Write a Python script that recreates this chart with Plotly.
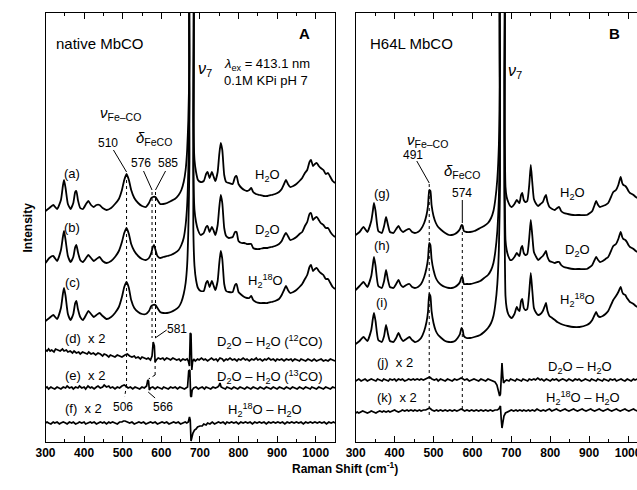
import plotly.graph_objects as go

# ---------------- data: (Raman shift / cm-1, relative intensity) ----------------
# Panel A : native MbCO
spec_a = [(300,0),(310,3),(320,6),(330,2),(340,11),(345,25),(348,31),(352,23),(358,7),(365,2),(372,8),(377,19),(380,20),(384,11),(390,3),(397,2),(405,7),(411,10),(418,6),(425,4),(432,6),(440,6),(448,3),(458,1),(470,3),(480,7),(490,12),(498,21),(504,31),(510,37),(516,31),(522,21),(530,13),(540,8),(550,5),(560,4),(568,8),(574,13),(578,14),(585,14),(590,11),(597,7),(605,7),(615,8),(625,10),(635,12),(645,16),(652,21),(658,29),(663,41),(667,61),(670,91),(673,151),(676,400),(680,400),(683,91),(686,51),(690,39),(695,31),(702,29),(710,30),(716,37),(720,39),(725,33),(731,39),(735,35),(740,30),(746,39),(750,56),(754,68),(758,61),(763,36),(768,29),(775,28),(785,27),(791,34),(795,35),(800,27),(808,23),(815,21),(822,20),(828,21),(833,23),(838,19),(845,17),(855,16),(865,15),(875,15),(885,16),(895,17),(905,19),(912,22),(918,27),(923,31),(928,27),(934,24),(942,25),(950,27),(958,30),(965,33),(972,38),(978,41),(984,49),(988,51),(993,45),(998,47),(1003,48),(1008,45),(1013,43),(1020,41),(1026,37),(1032,38),(1038,34),(1044,30),(1050,28)]
spec_b = [(300,0),(310,5),(320,7),(330,2),(340,13),(345,26),(348,32),(352,23),(358,7),(365,1),(372,6),(377,16),(380,18),(384,11),(390,3),(397,1),(405,5),(411,8),(418,5),(425,2),(432,4),(440,6),(448,2),(458,0),(470,2),(480,6),(490,12),(498,21),(504,30),(510,35),(516,29),(522,19),(530,12),(540,7),(550,4),(560,3),(568,5),(574,10),(578,16),(581,18),(585,13),(590,7),(597,5),(605,6),(615,7),(625,8),(635,10),(645,13),(652,18),(658,25),(663,38),(667,58),(670,93),(673,163),(676,400),(680,400),(683,93),(686,53),(690,41),(695,33),(702,28),(710,30),(716,36),(720,37),(725,31),(731,36),(735,33),(740,28),(746,38),(750,55),(754,68),(758,60),(763,35),(768,27),(775,25),(785,26),(791,31),(795,31),(800,22),(808,20),(815,20),(822,19),(828,19),(833,19),(838,15),(845,14),(855,14),(865,15),(875,15),(885,16),(895,17),(905,19),(912,22),(918,27),(923,30),(928,27),(934,23),(942,24),(950,26),(958,29),(965,31),(972,37),(978,41),(984,49),(988,50),(993,43),(998,45),(1003,46),(1008,43),(1013,40),(1020,38),(1026,35),(1032,35),(1038,31),(1044,28),(1050,26)]
spec_c = [(300,0),(310,3),(320,6),(330,2),(340,13),(345,27),(348,33),(352,25),(358,7),(365,1),(372,7),(377,18),(380,20),(384,12),(390,4),(397,1),(405,6),(411,10),(418,7),(425,4),(432,6),(440,8),(448,5),(458,2),(470,4),(480,8),(490,14),(498,24),(504,34),(510,39),(516,33),(522,21),(530,13),(540,9),(550,7),(560,7),(568,10),(574,15),(578,16),(585,16),(590,13),(597,9),(605,8),(615,8),(625,9),(635,11),(645,14),(652,19),(658,27),(663,38),(667,56),(670,91),(673,160),(676,400),(680,400),(683,91),(686,55),(690,41),(695,33),(702,30),(710,30),(716,38),(720,40),(725,34),(731,40),(735,36),(740,31),(746,40),(750,57),(754,70),(758,62),(763,37),(768,30),(775,29),(785,29),(791,36),(795,37),(800,29),(808,26),(815,24),(822,23),(828,23),(833,25),(838,21),(845,19),(855,18),(865,18),(875,18),(885,19),(895,20),(905,22),(912,26),(918,31),(923,35),(928,31),(934,28),(942,29),(950,31),(958,34),(965,37),(972,42),(978,46),(984,54),(988,56),(993,50),(998,52),(1003,53),(1008,50),(1013,48),(1020,46),(1026,42),(1032,42),(1038,38),(1044,34),(1050,32)]
diff_d = [(300,8),(304,7),(308,9),(312,7),(316,8),(322,6),(326,9),(332,8),(338,7),(344,9),(348,7),(354,8),(358,6),(364,7),(370,5),(374,7),(380,5),(386,6),(390,4),(396,6),(402,5),(408,4),(412,6),(418,4),(424,5),(430,3),(436,5),(442,4),(448,2),(452,4),(458,3),(464,1),(468,3),(474,2),(480,1),(486,3),(492,2),(498,1),(506,3),(512,4),(518,2),(524,1),(530,2),(534,0),(540,1),(546,-1),(550,1),(556,0),(562,-1),(566,0),(572,-2),(576,2),(579,16),(582,12),(584,-4),(587,-2),(592,0),(598,-1),(604,0),(608,-2),(614,0),(620,-1),(624,-2),(630,0),(636,-1),(640,-2),(646,-1),(650,-3),(656,-1),(662,-2),(667,-1),(670,-3),(673,-8),(675,25),(677,24),(679,-12),(681,-4),(684,-1),(688,-3),(694,-1),(698,-2),(704,0),(710,-2),(714,-1),(720,-3),(726,-1),(730,0),(736,-2),(742,-1),(746,-3),(752,0),(758,-1),(762,-3),(768,-1),(772,-2),(778,0),(784,-2),(790,-1),(796,-3),(800,-1),(806,-2),(812,0),(818,-2),(822,-1),(828,-3),(834,-1),(840,-2),(846,0),(850,-2),(856,-1),(862,-3),(868,-1),(872,-2),(878,0),(884,-2),(890,-1),(896,-3),(900,-1),(906,-2),(912,-1),(918,-3),(924,-1),(930,-2),(936,-1),(940,-3),(946,-1),(952,-2),(958,-3),(962,-1),(968,-2),(974,-3),(980,-1),(986,-2),(990,-3),(996,-1),(1002,-3),(1008,-2),(1014,-1),(1020,-3),(1026,-2),(1032,-3),(1038,-1),(1044,-2),(1050,-3)]
diff_e = [(300,0),(304,1),(308,-1),(314,1),(318,0),(324,-1),(330,1),(336,0),(340,-1),(346,1),(352,0),(356,2),(362,0),(368,1),(372,-1),(378,1),(384,0),(388,2),(394,0),(400,1),(404,-1),(410,2),(416,0),(420,1),(426,-1),(432,1),(436,2),(442,0),(448,1),(452,3),(458,1),(464,2),(468,0),(474,1),(480,-1),(486,1),(492,0),(498,2),(504,3),(508,2),(514,0),(520,1),(526,-1),(532,1),(538,0),(544,-1),(550,1),(556,0),(562,2),(565,8),(567,7),(569,-2),(572,0),(578,1),(584,-1),(590,1),(596,0),(602,-1),(606,1),(612,0),(618,-1),(624,1),(630,0),(636,1),(642,-1),(648,1),(654,0),(660,-1),(664,0),(668,1),(671,17),(674,18),(676,-8),(678,-9),(680,-2),(684,0),(690,1),(696,-1),(700,0),(706,1),(712,-1),(716,1),(722,0),(728,-1),(734,1),(740,0),(746,1),(749,2),(752,5),(755,1),(760,0),(766,-1),(770,1),(776,0),(782,-1),(788,1),(794,0),(798,-1),(804,1),(810,0),(816,-1),(822,1),(828,0),(832,-1),(838,1),(844,0),(850,-1),(856,1),(860,0),(866,-1),(872,1),(878,0),(884,-1),(890,1),(894,0),(900,-1),(906,1),(912,0),(918,-1),(924,1),(928,0),(934,-1),(940,1),(946,0),(952,-1),(958,1),(962,0),(968,-1),(974,1),(980,0),(986,-1),(990,1),(996,0),(1002,-1),(1008,1),(1014,0),(1020,-1),(1026,1),(1032,0),(1038,-1),(1044,1),(1050,0)]
diff_f = [(300,0),(304,1),(308,0),(314,-1),(320,1),(324,0),(330,1),(336,-1),(340,0),(346,1),(352,0),(356,-1),(362,1),(368,0),(372,1),(378,-1),(384,0),(388,1),(394,0),(400,1),(404,-1),(410,0),(416,1),(420,0),(426,1),(432,-1),(436,0),(442,1),(448,0),(452,1),(458,-1),(464,1),(468,0),(474,1),(480,0),(486,-1),(492,1),(498,1),(502,2),(506,2),(512,1),(518,0),(524,1),(530,-1),(536,0),(542,1),(548,0),(554,1),(560,-1),(566,0),(572,1),(578,0),(584,1),(590,-1),(596,0),(602,1),(608,0),(614,1),(620,-1),(626,0),(632,1),(638,0),(644,1),(650,-1),(656,0),(662,1),(666,0),(670,1),(673,6),(675,3),(677,-18),(679,-14),(682,-10),(686,-7),(690,-6),(694,-4),(700,-3),(706,-3),(710,-1),(716,-2),(720,0),(726,-1),(732,1),(738,-1),(742,0),(748,1),(754,0),(760,1),(766,-1),(770,1),(776,0),(782,1),(788,0),(794,1),(800,-1),(806,1),(812,0),(818,1),(824,0),(830,1),(836,-1),(842,1),(848,0),(854,1),(860,0),(866,1),(872,-1),(878,1),(884,0),(890,1),(896,0),(902,1),(908,0),(914,1),(920,-1),(926,1),(932,0),(938,1),(944,0),(950,1),(956,0),(962,1),(968,-1),(974,1),(980,0),(986,1),(992,0),(998,1),(1004,0),(1010,1),(1016,0),(1022,1),(1028,-1),(1034,1),(1040,0),(1046,1),(1050,0)]

# Panel B : H64L MbCO
spec_g = [(300,0),(310,3),(320,8),(330,3),(340,14),(344,24),(347,32),(351,24),(358,4),(367,2),(373,9),(378,18),(383,10),(388,3),(397,2),(404,6),(410,9),(416,5),(422,3),(430,5),(438,6),(445,3),(452,2),(460,3),(468,6),(476,12),(482,20),(486,30),(489,45),(492,44),(495,30),(500,19),(506,12),(512,8),(520,5),(530,2),(540,0),(547,0),(555,1),(562,3),(568,6),(572,10),(575,9),(578,4),(585,3),(594,3),(605,4),(620,7),(630,9),(640,12),(648,17),(654,24),(659,36),(664,56),(668,90),(671,160),(674,400),(679,400),(682,150),(685,48),(688,38),(692,33),(697,29),(701,28),(708,31),(714,35),(718,33),(721,32),(725,40),(728,42),(732,35),(736,33),(741,34),(746,50),(750,70),(754,52),(758,36),(764,31),(769,29),(775,31),(781,33),(786,38),(789,40),(793,33),(798,28),(805,26),(812,25),(818,27),(823,28),(828,24),(835,22),(845,21),(859,20),(875,20),(894,20),(902,22),(908,24),(914,30),(918,34),(923,30),(928,28),(935,29),(942,30),(949,32),(955,37),(962,43),(969,45),(975,50),(981,58),(985,52),(988,50),(993,49),(997,47),(1001,44),(1005,42),(1010,41),(1014,40),(1020,38),(1024,37),(1030,35)]
spec_h = [(300,0),(310,4),(320,8),(330,3),(340,14),(344,25),(347,33),(351,24),(358,4),(367,2),(373,9),(378,20),(383,10),(388,3),(397,2),(404,6),(410,10),(416,5),(422,3),(430,5),(438,6),(445,3),(452,2),(460,3),(468,6),(476,13),(482,22),(486,32),(489,47),(492,45),(495,31),(500,20),(506,12),(512,8),(520,5),(530,3),(540,2),(547,2),(555,3),(562,5),(568,8),(572,13),(575,12),(578,6),(585,6),(594,6),(605,7),(620,9),(630,12),(640,15),(648,20),(654,27),(659,39),(664,59),(668,93),(671,160),(674,400),(679,400),(682,150),(685,50),(688,40),(692,34),(697,30),(701,30),(708,33),(714,37),(718,35),(721,34),(725,42),(728,44),(732,37),(736,35),(741,36),(746,52),(750,70),(754,54),(758,38),(764,33),(769,30),(775,32),(781,34),(786,37),(789,39),(793,33),(798,29),(805,28),(812,27),(818,28),(823,28),(828,25),(835,23),(845,22),(859,21),(875,21),(894,21),(902,23),(908,25),(914,30),(918,33),(923,30),(928,28),(935,29),(942,31),(949,33),(955,38),(962,44),(969,46),(975,51),(981,58),(985,53),(988,51),(993,50),(997,48),(1001,45),(1005,43),(1010,42),(1014,41),(1020,39),(1024,38),(1030,36)]
spec_i = [(300,0),(310,3),(320,7),(330,3),(340,14),(344,25),(347,31),(351,23),(358,4),(367,2),(373,8),(378,19),(383,10),(388,3),(397,2),(404,6),(410,11),(416,6),(422,3),(430,5),(438,7),(445,4),(452,2),(460,3),(468,6),(476,13),(482,22),(486,33),(489,50),(492,48),(495,33),(500,21),(506,13),(512,9),(520,6),(530,3),(540,2),(547,2),(555,3),(562,6),(568,10),(572,16),(575,14),(578,8),(585,6),(594,6),(605,7),(620,9),(630,12),(640,16),(648,21),(654,28),(659,40),(664,60),(668,95),(671,160),(674,400),(679,400),(682,150),(685,48),(688,36),(692,30),(697,27),(701,26),(708,30),(714,37),(718,34),(721,33),(725,43),(728,45),(732,36),(736,34),(741,35),(746,52),(750,71),(754,53),(758,36),(764,31),(769,29),(775,30),(781,33),(786,38),(789,41),(793,33),(798,28),(805,26),(812,24),(818,22),(823,21),(828,20),(835,19),(845,18),(859,17),(875,17),(894,19),(902,21),(908,24),(914,29),(918,32),(923,28),(928,27),(935,28),(942,30),(949,33),(955,38),(962,44),(969,48),(975,52),(981,57),(985,52),(988,50),(993,49),(997,46),(1001,44),(1005,42),(1010,41),(1014,40),(1020,38),(1024,37),(1030,35)]
diff_j = [(300,-1),(304,0),(308,1),(314,-1),(318,0),(324,1),(330,-1),(336,0),(340,1),(346,0),(352,-1),(356,1),(362,0),(368,-1),(372,1),(378,0),(384,-1),(388,1),(394,0),(400,1),(404,-1),(410,1),(416,0),(420,1),(426,-1),(432,0),(436,1),(442,0),(448,1),(452,0),(458,1),(464,0),(468,1),(474,0),(480,1),(484,2),(490,3),(496,1),(502,0),(508,1),(512,-1),(518,1),(524,0),(530,-1),(536,1),(542,0),(548,-1),(554,1),(560,0),(566,1),(571,2),(576,1),(580,0),(586,1),(592,-1),(598,0),(604,1),(610,0),(616,-1),(622,1),(628,0),(634,-1),(640,1),(646,0),(652,-1),(658,-2),(663,-5),(667,-11),(670,-16),(672,-14),(674,10),(676,17),(678,4),(680,-3),(684,-1),(688,0),(694,-1),(698,1),(704,0),(710,-1),(714,1),(720,0),(726,-1),(730,1),(736,0),(742,-1),(746,1),(752,0),(758,1),(762,0),(768,2),(774,0),(778,1),(784,-1),(790,1),(794,0),(800,-1),(806,1),(810,0),(816,1),(822,-1),(826,0),(832,1),(838,0),(842,-1),(848,1),(854,0),(858,-1),(864,1),(870,0),(874,1),(880,-1),(886,0),(890,1),(896,0),(902,-1),(906,1),(912,0),(918,-1),(922,1),(928,0),(934,-1),(938,1),(944,0),(950,-1),(954,1),(960,0),(966,1),(970,-1),(976,0),(982,1),(986,0),(992,-1),(998,1),(1002,0),(1008,-1),(1014,1),(1018,0),(1024,1),(1030,0)]
diff_k = [(300,-2),(304,-1),(308,-2),(314,-1),(318,0),(324,-1),(330,-2),(336,-1),(340,0),(346,-1),(352,-2),(356,-1),(362,0),(368,-1),(372,0),(378,-1),(384,0),(388,-1),(394,0),(400,1),(404,0),(410,-1),(416,0),(420,1),(426,0),(432,1),(436,0),(442,1),(448,0),(452,1),(458,0),(464,1),(468,0),(474,1),(480,1),(484,2),(490,3),(496,1),(502,0),(508,1),(512,0),(518,1),(524,0),(530,1),(536,0),(542,1),(548,0),(554,1),(560,0),(566,1),(571,2),(576,1),(580,0),(586,1),(592,0),(598,1),(604,0),(610,1),(616,0),(622,1),(628,0),(634,1),(640,0),(646,1),(652,0),(658,1),(664,1),(668,2),(670,4),(672,5),(674,-8),(676,-17),(678,-12),(681,-5),(685,-2),(690,-1),(694,0),(700,1),(706,0),(712,1),(716,0),(722,1),(728,0),(732,1),(738,0),(744,1),(748,0),(754,1),(760,0),(766,2),(770,1),(776,0),(782,1),(788,0),(792,1),(798,2),(804,0),(810,1),(816,2),(820,1),(826,0),(832,1),(838,2),(842,1),(848,0),(854,1),(860,2),(864,1),(870,0),(876,1),(882,2),(886,1),(892,0),(898,1),(904,2),(908,1),(914,0),(920,1),(926,2),(930,1),(936,0),(942,1),(948,2),(952,1),(958,0),(964,1),(970,2),(974,1),(980,0),(986,1),(992,2),(996,1),(1002,0),(1008,1),(1014,2),(1018,1),(1024,0),(1030,1)]

# vertical stacking offsets (a.u.)
offsets = {"a": 231, "b": 179, "c": 121, "d": 84, "e": 54, "f": 19,
           "g": 207, "h": 152, "i": 98, "j": 62, "k": 31}

x_ticks = [300, 400, 500, 600, 700, 800, 900, 1000]

FONT = "Liberation Sans, Arial, Helvetica, sans-serif"

fig = go.Figure()

def add(spec, key, panel, smooth=True):
    xs = [p[0] for p in spec]
    ys = [p[1] + offsets[key] for p in spec]
    line = dict(color="black", width=1.8)
    if smooth:
        line.update(shape="spline", smoothing=0.5)
    else:
        line.update(width=1.7)
    fig.add_trace(go.Scatter(x=xs, y=ys, mode="lines", line=line,
                             xaxis="x" if panel == "A" else "x2",
                             yaxis="y" if panel == "A" else "y2",
                             showlegend=False, hoverinfo="skip"))

for s, k in [(spec_a, "a"), (spec_b, "b"), (spec_c, "c")]:
    add(s, k, "A")
for s, k in [(diff_d, "d"), (diff_e, "e"), (diff_f, "f")]:
    add(s, k, "A", smooth=False)
for s, k in [(spec_g, "g"), (spec_h, "h"), (spec_i, "i")]:
    add(s, k, "B")
for s, k in [(diff_j, "j"), (diff_k, "k")]:
    add(s, k, "B", smooth=False)

axis_common = dict(showline=True, linecolor="black", linewidth=1, mirror="ticks",
                   ticks="inside", ticklen=6, tickcolor="black", tickwidth=1,
                   tickvals=x_ticks, ticktext=[str(t) for t in x_ticks],
                   minor=dict(ticks="inside", ticklen=3, dtick=50, tick0=300, tickcolor="black"),
                   tickfont=dict(family=FONT, size=12, color="black", weight="bold"),
                   showgrid=False, zeroline=False, automargin=False,
                   ticklabeloverflow="allow")
yaxis_common = dict(range=[0, 429], showticklabels=False, ticks="", showgrid=False,
                    zeroline=False, showline=True, linecolor="black", linewidth=1,
                    automargin=False)

fig.update_layout(
    width=637, height=490,
    margin=dict(l=0, r=0, t=13, b=48, autoexpand=False),
    paper_bgcolor="white", plot_bgcolor="white",
    hovermode=False,
    xaxis=dict(domain=[45.5/637, 335/637], range=[300, 1050], anchor="y", **axis_common),
    yaxis=dict(domain=[0, 1], anchor="x", mirror=True, **yaxis_common),
    xaxis2=dict(domain=[355.7/637, 1.0], range=[300, 1023], anchor="y2", **axis_common),
    yaxis2=dict(domain=[0, 1], anchor="x2", mirror=False, **yaxis_common),
)

ann = []
def txt(x, y, text, panel="A", size=13, xanchor="center", bold=False):
    ann.append(dict(x=x, y=y, xref="x" if panel == "A" else "x2",
                    yref="y" if panel == "A" else "y2", text=("<b>%s</b>" % text) if bold else text,
                    showarrow=False, xanchor=xanchor, yanchor="middle",
                    font=dict(family=FONT, size=size, color="black")))

# Panel A labels
txt(323, 399, "native MbCO", "A", 15, "left")
txt(972, 409, "A", "A", 15, bold=True)
txt(690, 373, "<i>ν</i><sub>7</sub>", "A", 16, "left")
txt(758, 378, "<i>λ</i><sub>ex</sub> = 413.1 nm", "A", 13, "left")
txt(758, 362, "0.1M KPi pH 7", "A", 13, "left")
txt(494, 329, "<i>ν</i><sub>Fe–CO</sub>", "A", 15)
txt(582, 304, "<i>δ</i><sub>FeCO</sub>", "A", 15)
txt(462, 299, "510", "A", 12)
txt(547, 279, "576", "A", 12)
txt(617, 279, "585", "A", 12)
txt(369, 269, "(a)", "A", 13)
txt(369, 215, "(b)", "A", 13)
txt(369, 160, "(c)", "A", 13)
txt(345, 104, "(d)  x 2", "A", 13, "left")
txt(345, 67, "(e)  x 2", "A", 13, "left")
txt(345, 34, "(f)  x 2", "A", 13, "left")
txt(876, 267, "H<sub>2</sub>O", "A", 13)
txt(876, 212, "D<sub>2</sub>O", "A", 13)
txt(870, 161, "H<sub>2</sub><sup>18</sup>O", "A", 13)
txt(882, 100, "D<sub>2</sub>O – H<sub>2</sub>O (<sup>12</sup>CO)", "A", 13)
txt(882, 65, "D<sub>2</sub>O – H<sub>2</sub>O (<sup>13</sup>CO)", "A", 13)
txt(869, 32, "H<sub>2</sub><sup>18</sup>O – H<sub>2</sub>O", "A", 13)
txt(640, 113, "581", "A", 12)
txt(501, 35, "506", "A", 12)
txt(604, 35, "566", "A", 12)

# Panel B labels
txt(332, 399, "H64L MbCO", "B", 15, "left")
txt(966, 409, "B", "B", 15, bold=True)
txt(686, 371, "<i>ν</i><sub>7</sub>", "B", 16, "left")
txt(484, 302, "<i>ν</i><sub>Fe–CO</sub>", "B", 15)
txt(447, 287, "491", "B", 12)
txt(573, 271, "<i>δ</i><sub>FeCO</sub>", "B", 15)
txt(574, 249, "574", "B", 12)
txt(368, 249, "(g)", "B", 13)
txt(368, 197, "(h)", "B", 13)
txt(368, 140, "(i)", "B", 13)
txt(350, 80, "(j)  x 2", "B", 13, "left")
txt(350, 45, "(k)  x 2", "B", 13, "left")
txt(858, 249, "H<sub>2</sub>O", "B", 13)
txt(869, 192, "D<sub>2</sub>O", "B", 13)
txt(869, 142, "H<sub>2</sub><sup>18</sup>O", "B", 13)
txt(877, 75, "D<sub>2</sub>O – H<sub>2</sub>O", "B", 13)
txt(885, 44, "H<sub>2</sub><sup>18</sup>O – H<sub>2</sub>O", "B", 13)

# axis titles
ann.append(dict(x=18/637, y=0.5, xref="paper", yref="paper", text="<b>Intensity</b>",
                textangle=-90, showarrow=False, font=dict(family=FONT, size=12, color="black")))
ann.append(dict(x=345/637, y=-36/429, xref="paper", yref="paper",
                text="<b>Raman Shift (cm<sup>-1</sup>)</b>", showarrow=False,
                font=dict(family=FONT, size=12, color="black")))
fig.update_layout(annotations=ann)

shapes = []
def seg(x0, y0, x1, y1, panel="A", dotted=False):
    shapes.append(dict(type="line", x0=x0, y0=y0, x1=x1, y1=y1,
                       xref="x" if panel == "A" else "x2", yref="y" if panel == "A" else "y2",
                       line=dict(color="black", width=1, dash="dot" if dotted else "solid")))

# Panel A leaders and dotted guides
seg(476, 292, 510, 270, "A")
seg(554, 271, 576, 252, "A")
seg(611, 271, 585, 252, "A")
seg(510, 268, 510, 57, "A", True)
seg(510, 57, 505, 45, "A", True)
seg(576, 250, 576, 104, "A", True)
seg(585, 250, 585, 104, "A", True)
seg(614, 112, 584, 104, "A")
seg(584, 82, 584, 67, "A", True)
seg(584, 67, 567, 63, "A", True)
seg(566, 50, 584, 44, "A")
# Panel B leaders and dotted guides
seg(457, 281, 489, 259, "B")
seg(489, 258, 489, 27, "B", True)
seg(574, 242, 574, 222, "B")
seg(574, 222, 574, 30, "B", True)
fig.update_layout(shapes=shapes)

fig.write_html("out.html", config={"displayModeBar": False, "staticPlot": True},
               post_script="document.body.style.margin='0';document.body.style.overflow='hidden';")
